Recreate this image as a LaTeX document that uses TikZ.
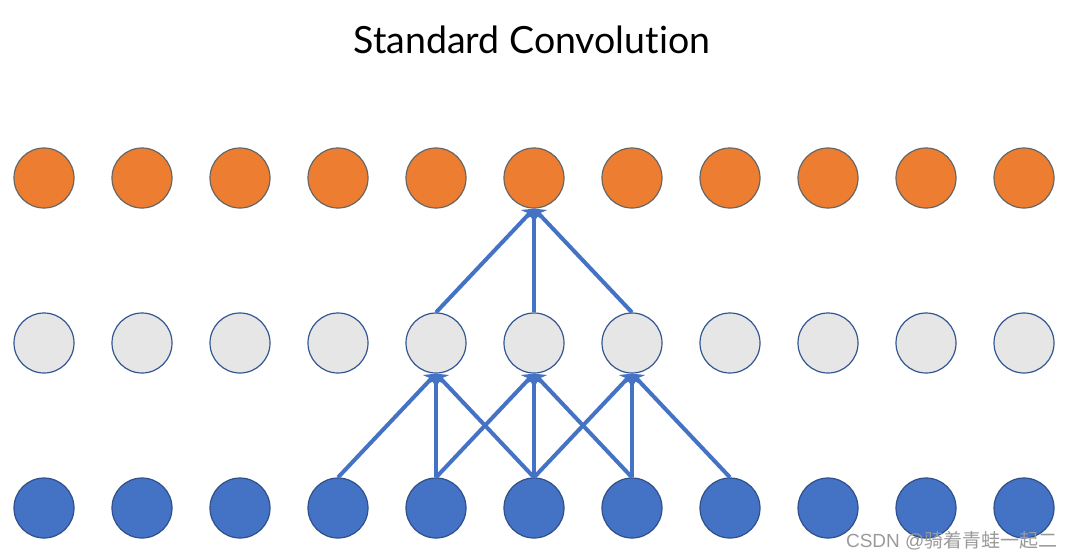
\documentclass[tikz,border=0pt]{standalone}
\usepackage{fontspec}
\setmainfont[Ligatures=NoCommon]{Lato}
\newfontfamily\cjk{Noto Sans CJK SC}
\newfontfamily\wmfont{Liberation Sans}
\usetikzlibrary{arrows.meta}
\definecolor{cvOut}{HTML}{ED7D31}
\definecolor{cvHid}{HTML}{E7E6E6}
\definecolor{cvIn}{HTML}{4472C4}
\definecolor{cvEdge}{HTML}{4472C4}
\definecolor{cvMute}{HTML}{9A9A9A}
\tikzset{
  unit/.style={circle, minimum size=60pt, inner sep=0pt, line width=1.2pt},
  outunit/.style={unit, fill=cvOut, draw=black!60},
  hidunit/.style={unit, fill=cvHid, draw=cvIn!75!black},
  inunit/.style={unit, fill=cvIn, draw=cvIn!70!black},
  conv/.style={-{Stealth[length=10pt, width=17pt, inset=3pt]}, line width=4pt, cvEdge},
  title/.style={font=\fontsize{37.5}{40}\selectfont},
  watermark/.style={font=\fontsize{19}{20}\selectfont, text=cvMute, anchor=east}
}
\begin{document}
\begin{tikzpicture}[x=1pt, y=-1pt]
  \useasboundingbox (0,0) rectangle (1075,558);
  \node[title] (ttl) at (532,40) {Standard Convolution};
  % three layers of units
  \foreach \i in {1,...,11} {
    \node[outunit] (o\i) at ({44+98*(\i-1)},178) {};
    \node[hidunit] (h\i) at ({44+98*(\i-1)},343) {};
    \node[inunit] (x\i) at ({44+98*(\i-1)},508) {};
  }
  % kernel of size 3
  \foreach \j in {5,6,7} {
    \pgfmathtruncatemacro{\l}{\j-1}
    \pgfmathtruncatemacro{\r}{\j+1}
    \draw[conv] (x\l.north) -- (h\j.south);
    \draw[conv] (x\j.north) -- (h\j.south);
    \draw[conv] (x\r.north) -- (h\j.south);
  }
  \foreach \j in {5,6,7}
    \draw[conv] (h\j.north) -- (o6.south);
  \node[watermark] (wm) at (1061,541) {{\wmfont CSDN @}{\cjk 骑着青蛙一起二}};
\end{tikzpicture}
\end{document}
